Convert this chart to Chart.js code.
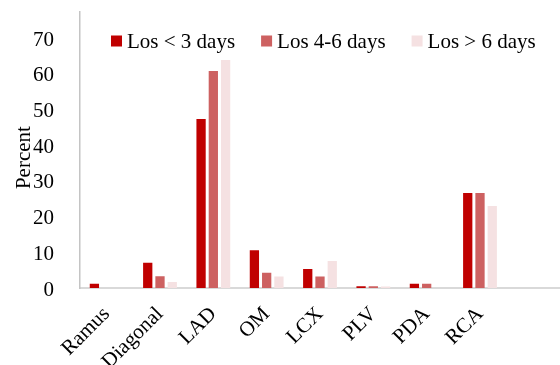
<!DOCTYPE html>
<html>
<head>
<meta charset="utf-8">
<script src="https://cdn.jsdelivr.net/npm/chart.js@4"></script>
<style>
html,body{margin:0;padding:0;background:#fff;}
#wrap{width:560px;height:365px;position:relative;}
</style>
</head>
<body>
<div id="wrap"><canvas id="c" width="560" height="365"></canvas></div>
<script>
const categories = ['Ramus', 'Diagonal', 'LAD', 'OM', 'LCX', 'PLV', 'PDA', 'RCA', ''];
const seriesNames = ['Los < 3 days', 'Los 4-6 days', 'Los > 6 days'];
const losUnder3 = [1.2, 7.1, 47.4, 10.6, 5.3, 0.5, 1.2, 26.6, null];
const los4to6 = [0, 3.3, 60.8, 4.3, 3.2, 0.5, 1.2, 26.6, null];
const losOver6 = [0, 1.7, 63.9, 3.2, 7.6, 0.4, 0, 23.0, null];
const yTicks = [0, 10, 20, 30, 40, 50, 60, 70];
const colors = ['#C00000', '#CD6161', '#F5E1E2'];

const FONT = "'Liberation Serif', 'Times New Roman', serif";

const legendPlugin = {
  id: 'customLegend',
  afterDraw(chart) {
    const ctx = chart.ctx;
    ctx.save();
    ctx.font = '21px ' + FONT;
    ctx.textBaseline = 'alphabetic';
    ctx.textAlign = 'left';
    let x = 111;
    chart.data.datasets.forEach((ds) => {
      ctx.fillStyle = ds.backgroundColor;
      ctx.fillRect(x, 35.5, 11, 11);
      ctx.fillStyle = '#000';
      ctx.fillText(ds.label, x + 16, 48);
      x += 16 + ctx.measureText(ds.label).width + 26;
    });
    ctx.restore();
  }
};

new Chart(document.getElementById('c'), {
  type: 'bar',
  data: {
    labels: categories,
    datasets: [
      { label: seriesNames[0], data: losUnder3, backgroundColor: colors[0] },
      { label: seriesNames[1], data: los4to6, backgroundColor: colors[1] },
      { label: seriesNames[2], data: losOver6, backgroundColor: colors[2] }
    ]
  },
  options: {
    responsive: false,
    animation: false,
    devicePixelRatio: 1,
    layout: { padding: { left: 0, right: 0, top: 11.5, bottom: 0 } },
    categoryPercentage: 0.69,
    barPercentage: 0.756,
    plugins: { legend: { display: false }, tooltip: { enabled: false } },
    scales: {
      x: {
        grid: { display: false },
        border: { color: '#D9D9D9', width: 2 },
        ticks: {
          autoSkip: false,
          minRotation: 45,
          maxRotation: 45,
          color: '#000',
          padding: 6,
          font: { family: FONT, size: 21 }
        },
        afterFit(scale) {
          scale.height = 77;
          scale.paddingLeft = 0; scale.paddingRight = 0;
          scale.paddingTop = 0; scale.paddingBottom = 0;
        }
      },
      y: {
        min: 0,
        max: 77.5,
        grid: { display: false },
        border: { color: '#C4C4C4', width: 1.5 },
        afterBuildTicks(scale) { scale.ticks = yTicks.map(v => ({ value: v })); },
        ticks: {
          color: '#000',
          padding: 18,
          labelOffset: 2,
          font: { family: FONT, size: 21 }
        },
        title: {
          display: true,
          text: 'Percent   ',
          color: '#000',
          padding: { top: 12, bottom: 0 },
          font: { family: FONT, size: 21 }
        },
        afterFit(scale) {
          scale.width = 80;
          scale.paddingTop = 0; scale.paddingBottom = 0;
          scale.paddingLeft = 0; scale.paddingRight = 0;
        }
      }
    }
  },
  plugins: [legendPlugin]
});
</script>
</body>
</html>
